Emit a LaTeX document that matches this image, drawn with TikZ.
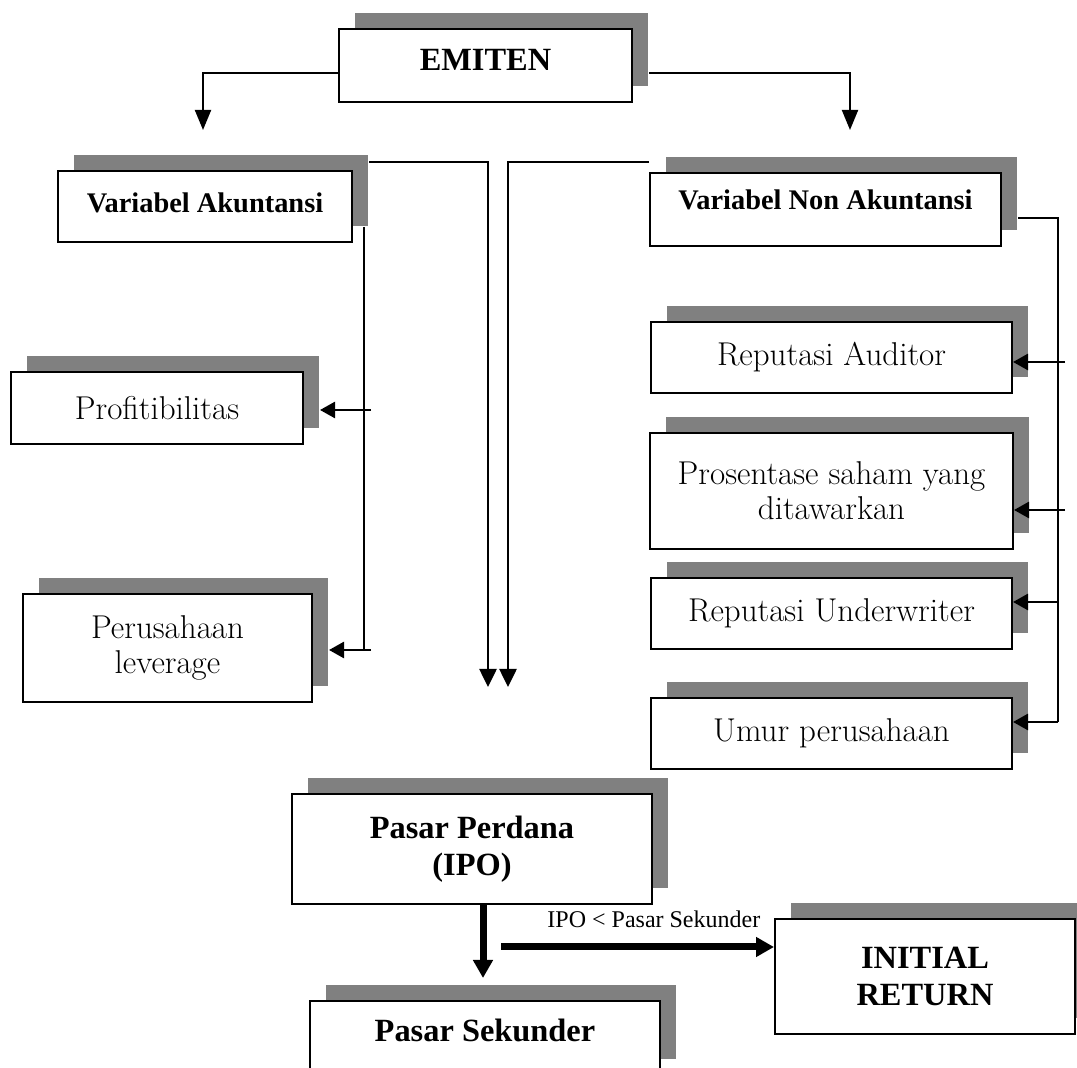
\documentclass[tikz,border=0pt]{standalone}
\usepackage{fontspec}
\usepackage{tikz}
\usetikzlibrary{arrows.meta,positioning,shadows}
\newfontfamily\timesfont{Liberation Serif}
\definecolor{boxgray}{RGB}{128,128,128}
\newcommand{\headfont}{\timesfont\bfseries\fontsize{16.2}{18.5}\selectfont}
\newcommand{\varfont}{\timesfont\bfseries\fontsize{14.2}{16}\selectfont}
\newcommand{\plainfont}{\fontsize{16.5}{17.5}\selectfont}
\newcommand{\notefont}{\timesfont\fontsize{12}{13}\selectfont}

\begin{document}
\begin{tikzpicture}[x=0.5pt,y=-0.5pt,
  shadowbox/.style={draw,line width=1pt,fill=white,align=center,inner sep=1pt,
    general shadow={fill=boxgray,shadow xshift=8pt,shadow yshift=8pt}},
  toparrow/.style={line width=1pt,-{Triangle[length=10pt,width=8pt]}},
  duoarrow/.style={line width=1.3pt,-{Triangle[length=9pt,width=8.5pt]}},
  sidearrow/.style={line width=1.3pt,-{Triangle[length=7.5pt,width=8pt]}},
  bigarrow/.style={line width=3.5pt,-{Triangle[length=9pt,width=9.5pt]}},
  trunk/.style={line width=0.8pt}]
  \useasboundingbox (0,0) rectangle (1077,1068);
  \clip (0,0) rectangle (1077,1068);
  \fill[white] (0,0) rectangle (1077,1068);

  \node[shadowbox,font=\headfont,minimum width=146.5pt,minimum height=36.5pt,text depth=5.5pt] (emiten) at (485.5,65.5) {EMITEN};
  \node[shadowbox,font=\varfont,minimum width=147pt,minimum height=35.5pt,text depth=3.5pt] (vakun) at (205,206.5) {Variabel Akuntansi};
  \node[shadowbox,font=\varfont,minimum width=175.5pt,minimum height=36.5pt,text depth=9.5pt] (vnon) at (825.5,209.5) {Variabel Non Akuntansi};

  \node[shadowbox,font=\plainfont,minimum width=146pt,minimum height=36pt] (profit) at (157,408) {Profitibilitas};
  \node[shadowbox,font=\plainfont,minimum width=144.5pt,minimum height=54pt] (lever) at (167.5,648) {Perusahaan\\leverage};

  \node[shadowbox,font=\plainfont,minimum width=180.5pt,minimum height=35.5pt] (raud) at (831.5,357.5) {Reputasi Auditor};
  \node[shadowbox,font=\plainfont,minimum width=181.5pt,minimum height=58pt,below=19pt of raud] (pros) {Prosentase saham yang\\ditawarkan};
  \node[shadowbox,font=\plainfont,minimum width=180.5pt,minimum height=35.5pt,below=13.5pt of pros] (rund) {Reputasi Underwriter};
  \node[shadowbox,font=\plainfont,minimum width=180.5pt,minimum height=35.5pt,below=23.5pt of rund] (umur) {Umur perusahaan};

  \node[shadowbox,font=\headfont,minimum width=180pt,minimum height=55pt] (perdana) at (472,849) {Pasar Perdana\\(IPO)};
  \node[shadowbox,font=\headfont,minimum width=175pt,minimum height=37pt,text depth=8pt] (sekunder) at (485,1038) {Pasar Sekunder};
  \node[shadowbox,font=\headfont,minimum width=150pt,minimum height=57.5pt] (initial) at (925,976.5) {INITIAL\\RETURN};

  \coordinate (vakunin) at (203,130);
  \coordinate (vnonin) at (850,130);
  \draw[toparrow] ([yshift=-3.75pt]emiten.west) -| (vakunin);
  \draw[toparrow] ([xshift=8pt,yshift=-3.75pt]emiten.east) -| (vnonin);

  \coordinate (ipoL) at (488,687);
  \coordinate (ipoR) at (508,687);
  \draw[duoarrow] ([xshift=8pt,yshift=4pt]vakun.north east) -| (ipoL);
  \draw[duoarrow] ([yshift=5pt]vnon.north west) -| (ipoR);

  \coordinate (akuntrunk) at ([xshift=5.5pt,yshift=8pt]vakun.south east);
  \coordinate (profitin) at ([xshift=8pt,yshift=-1pt]profit.east);
  \coordinate (leverin) at ([xshift=8pt,yshift=-1pt]lever.east);
  \draw[trunk] (akuntrunk) -- (akuntrunk |- leverin);
  \draw[sidearrow,shorten <=-3.5pt] (akuntrunk |- profitin) -- (profitin);
  \draw[sidearrow,shorten <=-3.5pt] (akuntrunk |- leverin) -- (leverin);

  \coordinate (nontrunk) at (1058,218);
  \coordinate (raudin) at ([yshift=-2.25pt]raud.east);
  \coordinate (prosin) at ([yshift=-9.5pt]pros.east);
  \coordinate (rundin) at ([yshift=5.75pt]rund.east);
  \coordinate (umurin) at ([yshift=5.75pt]umur.east);
  \draw[trunk] ([xshift=8pt,yshift=-4.25pt]vnon.east) -- (nontrunk) -- (nontrunk |- umurin);
  \draw[sidearrow,shorten <=-3.5pt] (nontrunk |- raudin) -- (raudin);
  \draw[sidearrow,shorten <=-3.5pt] (nontrunk |- prosin) -- (prosin);
  \draw[sidearrow] (nontrunk |- rundin) -- (rundin);
  \draw[sidearrow] (nontrunk |- umurin) -- (umurin);

  \coordinate (ipodown) at ([xshift=5.5pt]perdana.south);
  \draw[bigarrow,shorten >=11pt] (ipodown) -- (ipodown |- sekunder.north);
  \coordinate (irstart) at (501,947);
  \draw[bigarrow] (irstart) -- (irstart -| initial.west)
    node[pos=.56,above=4.5pt,font=\notefont] (irnote) {IPO < Pasar Sekunder};
\end{tikzpicture}
\end{document}
